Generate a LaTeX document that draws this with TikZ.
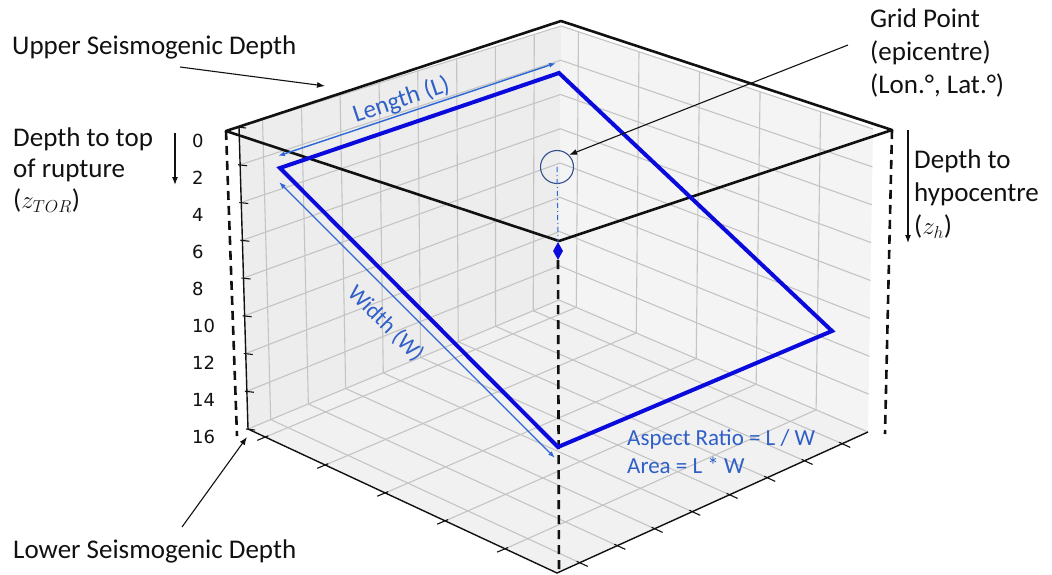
\documentclass[tikz,border=0pt]{standalone}
\usepackage{fontspec}
\setmainfont{Carlito}
\newfontfamily\tickfont{DejaVu Sans}
\usepackage{amsmath}
\usepackage{tikz}
\usetikzlibrary{arrows.meta,calc,shapes.geometric}
\definecolor{ink}{HTML}{111111}
\definecolor{plane}{HTML}{0A0ADC}
\definecolor{dimblue}{HTML}{2D66D6}
\definecolor{txtblue}{HTML}{2F5FC8}
\definecolor{epiblue}{HTML}{34508C}
\definecolor{gridc}{HTML}{C4C4C4}
\definecolor{paneL}{HTML}{EDEDED}
\definecolor{paneR}{HTML}{F4F4F4}
\definecolor{paneF}{HTML}{F1F1F1}
\tikzset{
  lbl/.style={font=\fontsize{27}{33}\selectfont,align=left,inner sep=0pt,text=ink},
  bluelbl/.style={font=\fontsize{23}{28}\selectfont,align=left,inner sep=0pt,text=txtblue},
  ticklbl/.style={font=\tickfont\fontsize{18}{20}\selectfont,inner sep=0pt,anchor=base west,text=ink},
  ar/.style={-{Latex[length=8pt,width=6pt]},line width=1.1pt,draw=ink},
  dimar/.style={{Latex[length=7pt,width=5pt]}-{Latex[length=7pt,width=5pt]},line width=1.4pt,draw=dimblue},
  gridln/.style={draw=gridc,line width=1.1pt},
  axln/.style={draw=ink,line width=1.4pt},
  rim/.style={draw=ink,line width=2.6pt,line join=round},
  drop/.style={draw=ink,line width=2.6pt,dash pattern=on 9pt off 6pt},
  rupt/.style={draw=plane,line width=4pt},
}

\begin{document}
\begin{tikzpicture}[x=1pt,y=-1pt]
  \useasboundingbox (0,0) rectangle (1052,575);
  \coordinate (LT) at (239,127); \coordinate (LB) at (248,429);
  \coordinate (BT) at (561,26);  \coordinate (BB) at (559,300);
  \coordinate (RT) at (873,129); \coordinate (RB) at (868,432);
  \coordinate (FB) at (557,573);
  \fill[paneL] (LT)--(BT)--(BB)--(LB)--cycle;
  \fill[paneR] (BT)--(RT)--(RB)--(BB)--cycle;
  \fill[paneF] (LB)--(BB)--(RB)--(FB)--cycle;
  \foreach \a in {0.073,0.194,0.314,0.435,0.555,0.676,0.796,0.917}
    \draw[gridln] ($(LT)!\a!(BT)$)--($(LB)!\a!(BB)$)--($(FB)!\a!(RB)$);
  \foreach \b in {0.056,0.25,0.444,0.638,0.832}
    \draw[gridln] ($(BT)!\b!(RT)$)--($(BB)!\b!(RB)$)--($(LB)!\b!(FB)$);
  \foreach \k in {0,...,8}
    \draw[gridln] ($(LT)!\k/8!(LB)$)--($(BT)!\k/8!(BB)$)--($(RT)!\k/8!(RB)$);
  \draw[axln] (LT)--(LB)--(FB)--(RB);
  \foreach \k in {0,...,8}{
    \draw[axln,line width=1.1pt] ($(LT)!\k/8!(LB)$) ++(-2,0) -- ++(9,1);
    \pgfmathtruncatemacro\d{2*\k}
    \node[ticklbl] (zt\k) at (192,147+37*\k) {\d};}
  \foreach \b in {0.056,0.25,0.444,0.638,0.832}
    \draw[axln,line width=1.1pt] ($(LB)!\b!(FB)$) ++(3,-1.3) -- ++(-11,4.6);
  \foreach \a in {0.073,0.194,0.314,0.435,0.555,0.676,0.796,0.917}
    \draw[axln,line width=1.1pt] ($(FB)!\a!(RB)$) ++(-3,-1.4) -- ++(11,5.1);

  \coordinate (rL) at (226,131); \coordinate (rT) at (561,21);
  \coordinate (rR) at (892,130); \coordinate (rF) at (559,241);
  \coordinate (dL) at (237,436); \coordinate (dR) at (885,434); \coordinate (dF) at (559,575);
  \draw[rim] (rL)--(rT)--(rR)--(rF)--cycle;
  \draw[drop] (rL)--(dL); \draw[drop] (rR)--(dR);

  \node[circle,draw=epiblue,line width=1.1pt,minimum size=33pt,inner sep=0pt] (epi) at (557,167) {};
  \node[diamond,fill=plane,minimum width=10pt,minimum height=18pt,inner sep=0pt] (hypo) at (558,251) {};
  \draw[dimblue,line width=1pt,dash pattern=on 5pt off 3pt on 1pt off 3pt] (epi.center)--(hypo.north);
  \draw[drop] (hypo.south)--(dF);

  \coordinate (pA) at (280,168); \coordinate (pB) at (559,73);
  \coordinate (pC) at (832,331); \coordinate (pD) at (558,447);
  \draw[rupt] (pA)--(pB)--(pC)--(pD)--cycle;
  \coordinate (lA) at (278,156); \coordinate (lB) at (556,63);
  \coordinate (wA) at (279,182); \coordinate (wB) at (555,458);
  \draw[dimar] (lA)--(lB) node[pos=0.46,sloped,above=2pt,bluelbl,font=\fontsize{25}{28}\selectfont] (lenlbl) {Length (L)};
  \draw[dimar] (wA)--(wB) node[pos=0.45,sloped,below=14pt,bluelbl] (widlbl) {Width (W)};
  \node[bluelbl,anchor=north west] (ratio) at (627,429) {Aspect Ratio = L / W\\Area = L * W};

  \node[lbl,anchor=base west] (usd) at (12,55) {Upper Seismogenic Depth};
  \node[lbl,anchor=base west] (lsd) at (13,558) {Lower Seismogenic Depth};
  \node[lbl,anchor=north west,font=\fontsize{27}{31}\selectfont] (ztor) at (13,128) {Depth to top\\of rupture\\($z_{TOR}$)};
  \node[lbl,anchor=north west] (zh) at (914,150) {Depth to\\hypocentre\\($z_h$)};
  \node[lbl,anchor=north west] (gp) at (870,9) {Grid Point\\(epicentre)\\(Lon.°, Lat.°)};

  \coordinate (usdTail) at (180,67); \coordinate (usdTip) at (325,86);
  \coordinate (lsdTail) at (182,527); \coordinate (lsdTip) at (247,437);
  \coordinate (gpTail) at (848,45);
  \coordinate (ztorA) at (175,133); \coordinate (ztorB) at (175,185);
  \coordinate (zhA) at (908,130); \coordinate (zhB) at (908,243);
  \draw[ar] (usdTail)--(usdTip);
  \draw[ar] (lsdTail)--(lsdTip);
  \draw[ar] (gpTail)--(epi.north east);
  \draw[ar] (ztorA)--(ztorB);
  \draw[ar] (zhA)--(zhB);
\end{tikzpicture}
\end{document}
